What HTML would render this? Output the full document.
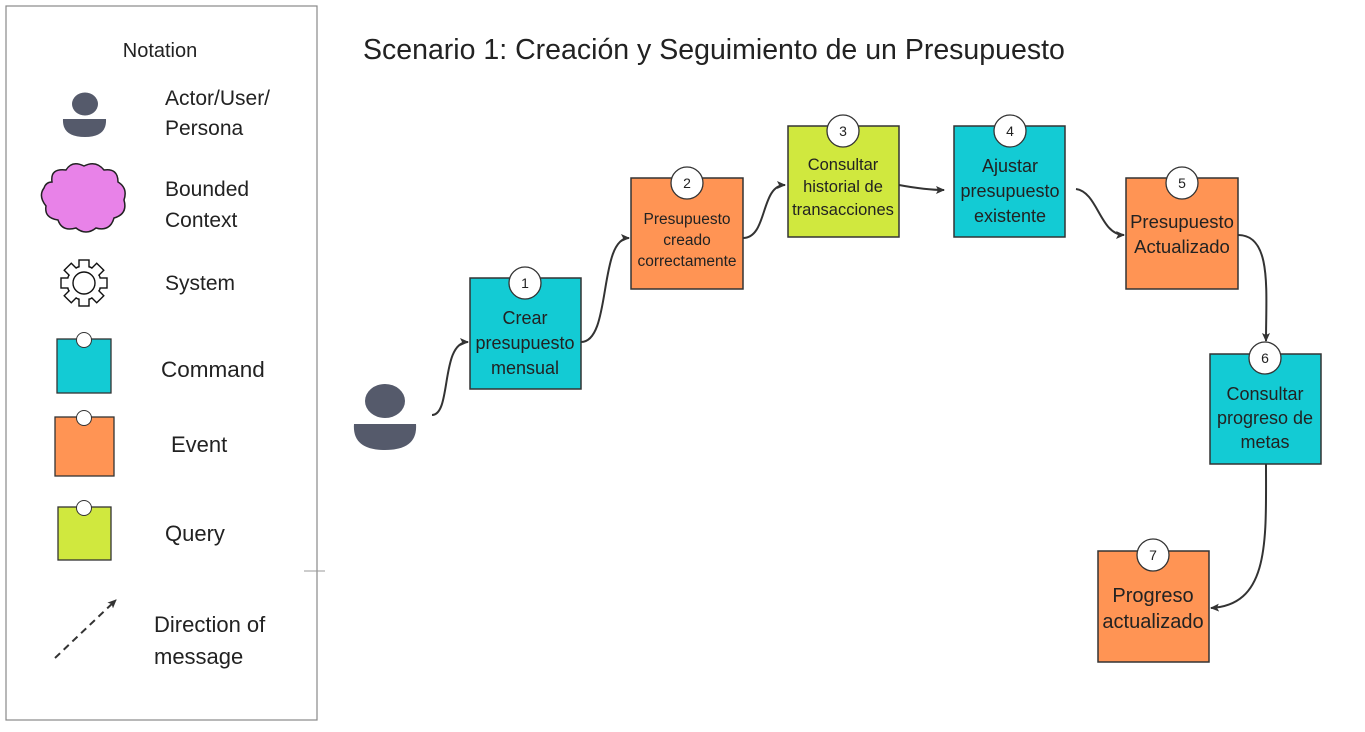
<!DOCTYPE html>
<html><head><meta charset="utf-8"><style>
html,body{margin:0;padding:0;background:#fff;}
svg{display:block;font-family:"Liberation Sans","DejaVu Sans",sans-serif;}
</style></head><body>
<svg width="1365" height="732" viewBox="0 0 1365 732" xmlns="http://www.w3.org/2000/svg">
<defs>
<marker id="ah" markerWidth="10" markerHeight="10" refX="8" refY="5" orient="auto" markerUnits="userSpaceOnUse">
<path d="M0,1 L9,5 L0,9 L2,5 Z" fill="#333"/></marker>
</defs>
<rect x="6" y="6" width="311" height="714" fill="#fff" stroke="#888" stroke-width="1.2"/>
<line x1="304" y1="571" x2="325" y2="571" stroke="#999"/>
<text x="160" y="57" font-size="20" fill="#222" text-anchor="middle">Notation</text>
<ellipse cx="85" cy="104" rx="13" ry="11.5" fill="#555a6b"/>
<path d="M63,119 H106 Q107,137 85,137 Q62,137 63,119 Z" fill="#555a6b"/>
<text x="165" y="105" font-size="21" fill="#222">Actor/User/</text>
<text x="165" y="135" font-size="21" fill="#222">Persona</text>
<path d="M52,182 Q50,168 66,170 Q72,160 84,166 Q96,160 104,170 Q118,168 118,182 Q128,188 124,200 Q128,214 114,218 Q110,232 96,228 Q86,236 76,228 Q62,232 58,220 Q44,218 46,206 Q38,196 44,188 Q46,182 52,182 Z" fill="#e882e8" stroke="#222" stroke-width="1.5"/>
<text x="165" y="196" font-size="21" fill="#222">Bounded</text>
<text x="165" y="227" font-size="21" fill="#222">Context</text>
<g transform="translate(84,283)" fill="#fff" stroke="#111" stroke-width="1.4">
<circle r="17"/>
<rect x="-5" y="-23" width="10" height="46"/>
<rect x="-5" y="-23" width="10" height="46" transform="rotate(45)"/>
<rect x="-5" y="-23" width="10" height="46" transform="rotate(90)"/>
<rect x="-5" y="-23" width="10" height="46" transform="rotate(135)"/>
<circle r="16.2" stroke="none"/>
<circle r="11"/>
</g>
<text x="165" y="290" font-size="21" fill="#222">System</text>
<rect x="57" y="339" width="54" height="54" fill="#13cbd4" stroke="#333" stroke-width="1.3"/>
<circle cx="84" cy="340" r="7.5" fill="#fff" stroke="#333"/>
<text x="161" y="377" font-size="22.5" fill="#222">Command</text>
<rect x="55" y="417" width="59" height="59" fill="#ff9454" stroke="#333" stroke-width="1.3"/>
<circle cx="84" cy="418" r="7.5" fill="#fff" stroke="#333"/>
<text x="171" y="452" font-size="22" fill="#222">Event</text>
<rect x="58" y="507" width="53" height="53" fill="#d0e83e" stroke="#333" stroke-width="1.3"/>
<circle cx="84" cy="508" r="7.5" fill="#fff" stroke="#333"/>
<text x="165" y="541" font-size="22" fill="#222">Query</text>
<line x1="55" y1="658" x2="116" y2="600" stroke="#333" stroke-width="2" stroke-dasharray="7,5" marker-end="url(#ah)"/>
<text x="154" y="632" font-size="22" fill="#222">Direction of</text>
<text x="154" y="664" font-size="22" fill="#222">message</text>

<text x="363" y="59" font-size="28.5" fill="#222">Scenario 1: Creación y Seguimiento de un Presupuesto</text>

<ellipse cx="385" cy="401" rx="20" ry="17" fill="#555a6b"/>
<path d="M354,424 H416 Q418,450 385,450 Q352,450 354,424 Z" fill="#555a6b"/>

<g fill="none" stroke="#333" stroke-width="2">
<path d="M432,415 C452,415 440,342 468,342" marker-end="url(#ah)"/>
<path d="M581,342 C612,342 598,238 629,238" marker-end="url(#ah)"/>
<path d="M743,238 C768,238 760,185 785,185" marker-end="url(#ah)"/>
<path d="M899,185 C915,188 930,190 944,190" marker-end="url(#ah)"/>
<path d="M1076,189 C1098,192 1100,235 1124,235" marker-end="url(#ah)"/>
<path d="M1238,235 C1272,235 1266,290 1266,341" marker-end="url(#ah)"/>
<path d="M1266,464 C1266,540 1270,605 1211,608" marker-end="url(#ah)"/>
</g>

<g stroke="#333" stroke-width="1.5">
<rect x="470" y="278" width="111" height="111" fill="#13cbd4"/>
<rect x="631" y="178" width="112" height="111" fill="#ff9454"/>
<rect x="788" y="126" width="111" height="111" fill="#d0e83e"/>
<rect x="954" y="126" width="111" height="111" fill="#13cbd4"/>
<rect x="1126" y="178" width="112" height="111" fill="#ff9454"/>
<rect x="1210" y="354" width="111" height="110" fill="#13cbd4"/>
<rect x="1098" y="551" width="111" height="111" fill="#ff9454"/>
</g>
<g fill="#fff" stroke="#333" stroke-width="1.3">
<circle cx="525" cy="283" r="16"/>
<circle cx="687" cy="183" r="16"/>
<circle cx="843" cy="131" r="16"/>
<circle cx="1010" cy="131" r="16"/>
<circle cx="1182" cy="183" r="16"/>
<circle cx="1265" cy="358" r="16"/>
<circle cx="1153" cy="555" r="16"/>
</g>
<g font-size="14" fill="#222" text-anchor="middle">
<text x="525" y="288">1</text><text x="687" y="188">2</text><text x="843" y="136">3</text>
<text x="1010" y="136">4</text><text x="1182" y="188">5</text><text x="1265" y="363">6</text><text x="1153" y="560">7</text>
</g>
<g fill="#222" text-anchor="middle">
<g font-size="18"><text x="525" y="324">Crear</text><text x="525" y="349">presupuesto</text><text x="525" y="374">mensual</text></g>
<g font-size="15.5"><text x="687" y="224">Presupuesto</text><text x="687" y="245">creado</text><text x="687" y="266">correctamente</text></g>
<g font-size="16.5"><text x="843" y="170">Consultar</text><text x="843" y="192">historial de</text><text x="843" y="215">transacciones</text></g>
<g font-size="18"><text x="1010" y="172">Ajustar</text><text x="1010" y="197">presupuesto</text><text x="1010" y="222">existente</text></g>
<g font-size="18.5"><text x="1182" y="228">Presupuesto</text><text x="1182" y="253">Actualizado</text></g>
<g font-size="18"><text x="1265" y="400">Consultar</text><text x="1265" y="424">progreso de</text><text x="1265" y="448">metas</text></g>
<g font-size="20"><text x="1153" y="602">Progreso</text><text x="1153" y="628">actualizado</text></g>
</g>
</svg>
</body></html>
